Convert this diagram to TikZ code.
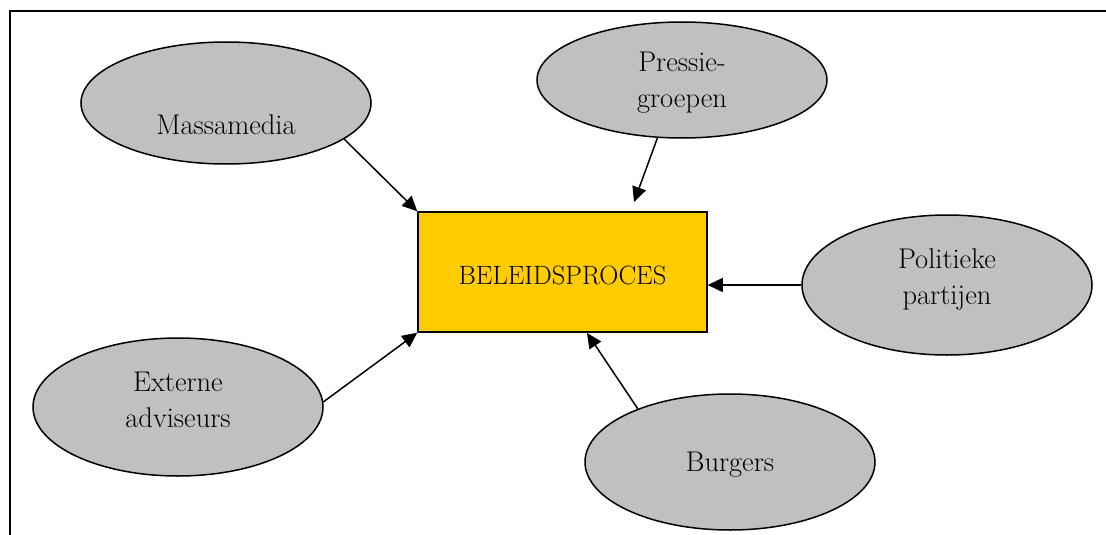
\documentclass[tikz,border=0pt]{standalone}
\usetikzlibrary{shapes.geometric,arrows.meta,calc}
\definecolor{ellgray}{RGB}{192,192,192}
\definecolor{boxyellow}{RGB}{255,204,0}
\begin{document}
\begin{tikzpicture}[x=1pt,y=-1pt,
  actor/.style={ellipse,draw=black,fill=ellgray,line width=1.5pt,inner sep=0pt,minimum width=290pt},
  procbox/.style={rectangle,draw=black,fill=boxyellow,line width=1.5pt,inner sep=0pt,minimum width=289pt,minimum height=120pt},
  lbl/.style={align=center,font=\fontsize{28.5}{36}\selectfont,inner sep=0pt},
  boxlbl/.style={font=\fontsize{26.5}{32}\selectfont,inner sep=0pt},
  conn/.style={line width=1.5pt,-{Triangle[length=15pt,width=14pt]}},
  frame/.style={line width=1.6pt}]
\useasboundingbox (0,0) rectangle (1106,535);
% frame
\coordinate (ftl) at (10,11);
\coordinate (ftr) at (1106,11);
\coordinate (fbl) at (10,535);
\draw[frame] (fbl) -- (ftl) -- (ftr);
% nodes
\node[procbox] (bp) at (562.5,272) {};
\node[boxlbl] (bpt) at (562.5,275) {BELEIDSPROCES};
\node[actor,minimum height=122pt] (mm) at (226,103) {};
\node[lbl] (mmt) at (226,125) {Massamedia};
\node[actor,minimum height=116pt] (pg) at (682,80) {};
\node[lbl] (pgt) at (682,83) {Pressie-\\groepen};
\node[actor,minimum height=140pt] (pp) at (947,285) {};
\node[lbl] (ppt) at (947,280) {Politieke\\partijen};
\node[actor,minimum height=138pt] (ea) at (178,407) {};
\node[lbl] (eat) at (178,400) {Externe\\adviseurs};
\node[actor,minimum height=136pt] (bu) at (730,462) {};
\node[lbl] (but) at (730,465) {Burgers};
% free ends
\coordinate (pgend) at (634,202);
\coordinate (buend) at (587,333);
% connectors
\draw[conn] (mm.-17) -- (bp.north west);
\draw[conn] (pg.-113) -- (pgend);
\draw[conn] (pp.west) -- (pp.west -| bp.east);
\draw[conn] (ea.2) -- (bp.south west);
\draw[conn] (bu.150) -- (buend);
\end{tikzpicture}
\end{document}
